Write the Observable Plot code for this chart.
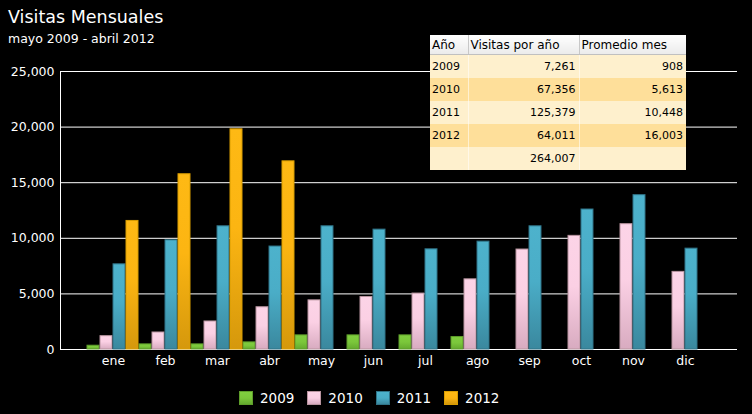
<!DOCTYPE html>
<html>
<head>
<meta charset="utf-8">
<script src="https://cdn.jsdelivr.net/npm/d3@7"></script>
<script src="https://cdn.jsdelivr.net/npm/@observablehq/plot@0.6"></script>
<style>
  html, body { margin: 0; padding: 0; background: #000; }
  #page { position: relative; width: 752px; height: 414px; background: #000; overflow: hidden; font-family: "DejaVu Sans", Verdana, sans-serif; color: #fff; }
  #title { position: absolute; left: 8px; top: 7px; font-size: 17.5px; line-height: 20px; white-space: nowrap; }
  #subtitle { position: absolute; left: 8px; top: 31px; font-size: 12.5px; line-height: 15px; white-space: nowrap; }
  #chart { position: absolute; left: 0; top: 56px; width: 752px; height: 320px; }
  #chart svg { position: absolute; left: 0; top: 0; }
  #tbl { position: absolute; left: 430px; top: 35px; border-collapse: collapse; width: 256px; table-layout: fixed; color: #000; }
  #tbl th { font-weight: normal; font-size: 12px; text-align: left; height: 19px; padding: 0 2px; background: linear-gradient(#ffffff, #ebebeb); border-left: 1px solid #c8c8c8; border-bottom: 1px solid #c0c0c0; white-space: nowrap; }
  #tbl th:first-child { border-left: none; }
  #tbl td { font-size: 11px; height: 23px; padding: 0 3px 0 2px; border-left: 1px solid rgba(255,255,255,0.55); white-space: nowrap; }
  #tbl td:first-child { border-left: none; text-align: left; }
  #tbl td.num { text-align: right; }
  #tbl tr.light td { background: #fef0cd; }
  #tbl tr.dark td { background: #fedf9a; }
  #legend { position: absolute; left: 239px; top: 390px; display: flex; align-items: center; font-size: 13.5px; }
  .item { display: flex; align-items: center; margin-right: 13px; }
  .sw { width: 12px; height: 12px; border: 1px solid; margin-right: 7px; }
</style>
</head>
<body>
<div id="page">
  <div id="title">Visitas Mensuales</div>
  <div id="subtitle">mayo 2009 - abril 2012</div>
  <div id="chart"></div>
  <table id="tbl"></table>
  <div id="legend"></div>
</div>
<script>
// ---- data ----
const months = ["ene","feb","mar","abr","may","jun","jul","ago","sep","oct","nov","dic"];
const years = ["2009","2010","2011","2012"];
const visits2009 = [340, 460, 460, 640, 1270, 1270, 1270, 1120, null, null, null, null];
const visits2010 = [1200, 1530, 2520, 3800, 4420, 4720, 5030, 6310, 8990, 10220, 11270, 6980];
const visits2011 = [7660, 9820, 11080, 9260, 11080, 10780, 9010, 9700, 11080, 12590, 13880, 9070];
const visits2012 = [11560, 15760, 19800, 16920, null, null, null, null, null, null, null, null];
const yTicks = [0, 5000, 10000, 15000, 20000, 25000];

const tableYears = ["2009", "2010", "2011", "2012"];
const tableTotals = [7261, 67356, 125379, 64011];
const tableAverages = [908, 5613, 10448, 16003];
const tableGrandTotal = 264007;
const tableHeaders = ["Año", "Visitas por año", "Promedio mes"];

// ---- styles ----
const gradients = {
  "2009": [["0%", "#80ce3f"], ["50%", "#7bc73b"], ["100%", "#64aa2e"]],
  "2010": [["0%", "#fcd4e7"], ["45%", "#fbd0e4"], ["100%", "#d8abc0"]],
  "2011": [["0%", "#4db2cc"], ["45%", "#4aadc7"], ["100%", "#3a889e"]],
  "2012": [["0%", "#feb914"], ["45%", "#fcb512"], ["100%", "#d5980c"]]
};
const strokes = {"2009": "#5e9e2a", "2010": "#b8949f", "2011": "#2f7387", "2012": "#d99d00"};

const series = {"2009": visits2009, "2010": visits2010, "2011": visits2011, "2012": visits2012};
const data = years.flatMap(y => series[y].map((v, i) => ({month: months[i], year: y, value: v})).filter(d => d.value != null));

const fmt = d3.format(",");
const common = {
  width: 752,
  height: 320,
  marginTop: 15,
  marginBottom: 27,
  marginLeft: 60,
  marginRight: 15,
  style: {background: "transparent", color: "white", fontFamily: "DejaVu Sans, Verdana, sans-serif", fontSize: "12.5px", overflow: "visible"}
};

// background layer: y axis, grid lines, left axis line
const bg = Plot.plot({
  ...common,
  x: {axis: null},
  y: {domain: [0, 25000], ticks: yTicks, tickFormat: fmt, label: null, tickSize: 0, tickPadding: 6},
  marks: [
    Plot.ruleY(yTicks, {stroke: "white", strokeWidth: 1}),
    Plot.frame({anchor: "left", stroke: "white"})
  ]
});

// foreground layer: grouped bars faceted by month
const fg = Plot.plot({
  ...common,
  fx: {domain: months, paddingInner: 0, paddingOuter: 0.466, label: null, axis: "bottom", tickSize: 0, tickPadding: 7},
  x: {domain: years, paddingInner: 0.076, paddingOuter: 0.038, axis: null},
  y: {domain: [0, 25000], axis: null},
  marks: years.map(y => Plot.barY(data.filter(d => d.year === y), {
    fx: "month", x: "year", y: "value",
    fill: `url(#grad${y})`, stroke: strokes[y], strokeWidth: 1
  }))
});

const defs = d3.select(fg).insert("defs", ":first-child");
for (const y of years) {
  const g = defs.append("linearGradient").attr("id", `grad${y}`).attr("x1", 0).attr("y1", 0).attr("x2", 0).attr("y2", 1);
  for (const [o, c] of gradients[y]) g.append("stop").attr("offset", o).attr("stop-color", c);
}
document.getElementById("chart").appendChild(bg);
document.getElementById("chart").appendChild(fg);

// ---- table ----
const tbl = d3.select("#tbl");
tbl.append("colgroup").selectAll("col").data([38, 111, 107]).join("col").style("width", d => d + "px");
tbl.append("tr").selectAll("th").data(tableHeaders).join("th").text(d => d);
const rows = tableYears.map((y, i) => [y, fmt(tableTotals[i]), fmt(tableAverages[i])]);
rows.push(["", fmt(tableGrandTotal), ""]);
rows.forEach((r, i) => {
  const tr = tbl.append("tr").attr("class", i % 2 === 0 ? "light" : "dark");
  tr.selectAll("td").data(r).join("td").attr("class", (d, j) => j > 0 ? "num" : null).text(d => d);
});

// ---- legend ----
const leg = d3.select("#legend");
years.forEach(y => {
  const it = leg.append("div").attr("class", "item");
  const st = gradients[y];
  it.append("div").attr("class", "sw")
    .style("background", `linear-gradient(${st[0][1]}, ${st[1][1]} 50%, ${st[2][1]})`)
    .style("border-color", strokes[y]);
  it.append("span").text(y);
});
</script>
</body>
</html>
